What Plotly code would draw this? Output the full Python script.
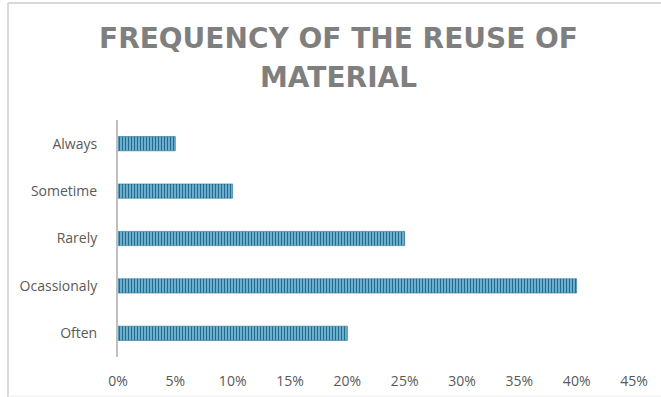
import plotly.graph_objects as go

# Survey answers, bottom to top
categories = ["Often", "Ocassionaly", "Rarely", "Sometime", "Always"]
shares = [0.20, 0.40, 0.25, 0.10, 0.05]
tick_values = [0, 0.05, 0.10, 0.15, 0.20, 0.25, 0.30, 0.35, 0.40, 0.45]
tick_labels = ["0%", "5%", "10%", "15%", "20%", "25%", "30%", "35%", "40%", "45%"]
title_lines = ["FREQUENCY OF THE REUSE OF", "MATERIAL"]

W, H = 661, 397
ml, mr, mt, mb = 118, 27, 120, 40
pw, ph = W - ml - mr, H - mt - mb


def px_x(p):
    return (p - ml) / pw


def px_y(p):
    return (H - mb - p) / ph


fig = go.Figure(
    go.Bar(
        x=shares,
        y=categories,
        orientation="h",
        width=0.3,
        marker=dict(
            color="#6fb2d2",
            line=dict(color="#2a6f90", width=0.6),
            pattern=dict(shape="|", fgcolor="#226b90", bgcolor="#7dbcda",
                         size=3, solidity=0.45, fillmode="replace"),
        ),
        hoverinfo="skip",
    )
)

# two-line chart title, each line placed on its own baseline
title_font = dict(family="DejaVu Sans", size=28, color="#7f7f7f", weight="bold")
title_annotations = [
    dict(text=line, xref="paper", yref="paper",
         x=px_x(338), y=px_y(yc), xanchor="center", yanchor="middle",
         showarrow=False, font=title_font)
    for line, yc in zip(title_lines, [38, 77])
]

fig.update_layout(
    width=W,
    height=H,
    margin=dict(l=ml, r=mr, t=mt, b=mb, autoexpand=False),
    paper_bgcolor="white",
    plot_bgcolor="white",
    showlegend=False,
    xaxis=dict(
        range=[0, 0.45],
        tickvals=tick_values,
        ticktext=tick_labels,
        showgrid=False,
        zeroline=False,
        showline=False,
        ticks="",
        automargin=False,
        ticklabelstandoff=14,
        tickfont=dict(family="Open Sans", size=14, color="#595959"),
    ),
    yaxis=dict(
        categoryorder="array",
        categoryarray=categories,
        showgrid=False,
        zeroline=False,
        showline=True,
        linecolor="#bfbfbf",
        linewidth=2,
        ticks="",
        automargin=False,
        ticklabelstandoff=16,
        tickfont=dict(family="Open Sans", size=14, color="#595959"),
    ),
    annotations=title_annotations,
    shapes=[
        dict(type="line", xref="paper", yref="paper",
             x0=px_x(8), x1=px_x(8), y0=px_y(3), y1=px_y(397),
             line=dict(color="#d9d9d9", width=2)),
        dict(type="line", xref="paper", yref="paper",
             x0=px_x(8), x1=px_x(661), y0=px_y(3), y1=px_y(3),
             line=dict(color="#d9d9d9", width=2)),
        dict(type="line", xref="paper", yref="paper",
             x0=px_x(8), x1=px_x(661), y0=px_y(396), y1=px_y(396),
             line=dict(color="#eeeeee", width=1)),
    ],
)

fig.write_html("out.html")
